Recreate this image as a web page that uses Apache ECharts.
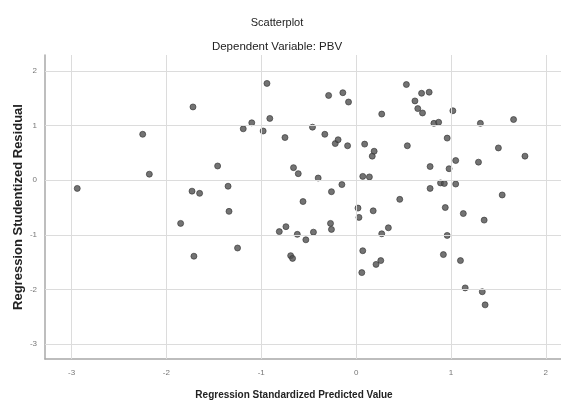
<!DOCTYPE html>
<html>
<head>
<meta charset="utf-8">
<script src="https://cdn.jsdelivr.net/npm/echarts@6/dist/echarts.min.js"></script>
<style>
html,body{margin:0;padding:0;background:#fff;}
#chart{width:561px;height:405px;}
</style>
</head>
<body>
<div id="chart"></div>
<script>
const titleText = "Scatterplot";
const subtitleText = "Dependent Variable: PBV";
const xAxisName = "Regression Standardized Predicted Value";
const yAxisName = "Regression Studentized Residual";
const xTicks = [-3, -2, -1, 0, 1, 2];
const yTicks = [-3, -2, -1, 0, 1, 2];
const predicted = [
  -2.94, -2.25, -2.18, -1.72, -1.73, -1.65, -1.85, -1.71, -1.46, -1.35,
  -1.34, -1.25, -1.19, -1.10, -0.98, -0.94, -0.91, -0.75, -0.81, -0.74,
  -0.69, -0.67, -0.66, -0.61, -0.62, -0.56, -0.53, -0.46, -0.45, -0.40,
  -0.33, -0.29, -0.27, -0.26, -0.26, -0.22, -0.19, -0.15, -0.14, -0.09,
  -0.08, 0.02, 0.03, 0.06, 0.07, 0.07, 0.09, 0.14, 0.17, 0.19,
  0.18, 0.21, 0.26, 0.27, 0.27, 0.34, 0.46, 0.53, 0.54, 0.62,
  0.65, 0.69, 0.70, 0.77, 0.78, 0.78, 0.82, 0.87, 0.89, 0.93,
  0.94, 0.92, 0.96, 0.96, 0.98, 1.02, 1.05, 1.05, 1.10, 1.13,
  1.15, 1.29, 1.31, 1.33, 1.35, 1.36, 1.50, 1.54, 1.66, 1.78
];
const residual = [
  -0.15, 0.84, 0.11, 1.34, -0.20, -0.24, -0.79, -1.39, 0.26, -0.11,
  -0.57, -1.24, 0.94, 1.05, 0.90, 1.77, 1.13, 0.78, -0.94, -0.85,
  -1.38, -1.43, 0.23, 0.12, -0.99, -0.39, -1.09, 0.97, -0.95, 0.04,
  0.84, 1.55, -0.79, -0.90, -0.21, 0.67, 0.74, -0.08, 1.60, 0.63,
  1.43, -0.51, -0.68, -1.69, -1.29, 0.07, 0.66, 0.06, 0.44, 0.53,
  -0.56, -1.54, -1.47, 1.21, -0.98, -0.87, -0.35, 1.75, 0.63, 1.45,
  1.31, 1.59, 1.23, 1.61, 0.25, -0.15, 1.04, 1.06, -0.05, -0.06,
  -0.50, -1.36, 0.77, -1.01, 0.21, 1.27, 0.36, -0.07, -1.47, -0.61,
  -1.97, 0.33, 1.04, -2.04, -0.73, -2.28, 0.59, -0.27, 1.11, 0.44
];
const points = predicted.map((x, i) => [x, residual[i]]);

const chart = echarts.init(document.getElementById('chart'), null, {renderer: 'canvas'});
const font = '"Liberation Sans", Arial, sans-serif';
const gridLineStyle = {color: '#dcdcdc', width: 1, type: 'solid'};

chart.setOption({
  backgroundColor: '#ffffff',
  animation: false,
  title: [
    {text: titleText, left: 272, top: 12, textAlign: 'center',
     textStyle: {fontFamily: font, fontSize: 11, fontWeight: 'normal', color: '#222'}},
    {text: subtitleText, left: 272, top: 36, textAlign: 'center',
     textStyle: {fontFamily: font, fontSize: 11.5, fontWeight: 'normal', color: '#222'}}
  ],
  grid: {left: 45, top: 55, right: 0, bottom: 42, containLabel: false},
  xAxis: {
    type: 'value', min: -3.28, max: 2.16,
    name: xAxisName, nameLocation: 'middle', nameGap: 31, nameMoveOverlap: false,
    nameTextStyle: {fontFamily: font, fontSize: 10, fontWeight: 'bold', color: '#222', padding: [0, 0, 0, -18]},
    axisLine: {show: true, onZero: false, lineStyle: {color: '#a8a8a8', width: 1.5}},
    axisTick: {show: false, customValues: xTicks},
    axisLabel: {customValues: xTicks, fontFamily: font, fontSize: 8, color: '#777', margin: 10},
    splitLine: {show: false}
  },
  yAxis: {
    type: 'value', min: -3.27, max: 2.29,
    name: yAxisName, nameLocation: 'middle', nameGap: 20, nameRotate: 90, nameMoveOverlap: false,
    nameTextStyle: {fontFamily: font, fontSize: 13, fontWeight: 'bold', color: '#222'},
    axisLine: {show: true, onZero: false, lineStyle: {color: '#a8a8a8', width: 1.5}},
    axisTick: {show: false, customValues: yTicks},
    axisLabel: {customValues: yTicks, fontFamily: font, fontSize: 8, color: '#777', margin: 8},
    splitLine: {show: false}
  },
  series: [
    {
      type: 'scatter', data: [], silent: true,
      markLine: {
        silent: true, symbol: ['none', 'none'], label: {show: false},
        lineStyle: gridLineStyle, animation: false,
        data: xTicks.map(v => ({xAxis: v})).concat(yTicks.map(v => ({yAxis: v})))
      },
      z: 1
    },
    {
      type: 'scatter', data: points, symbol: 'circle', symbolSize: 6,
      itemStyle: {color: '#505050', borderColor: '#333', borderWidth: 0.8},
      z: 3
    }
  ]
});
</script>
</body>
</html>
